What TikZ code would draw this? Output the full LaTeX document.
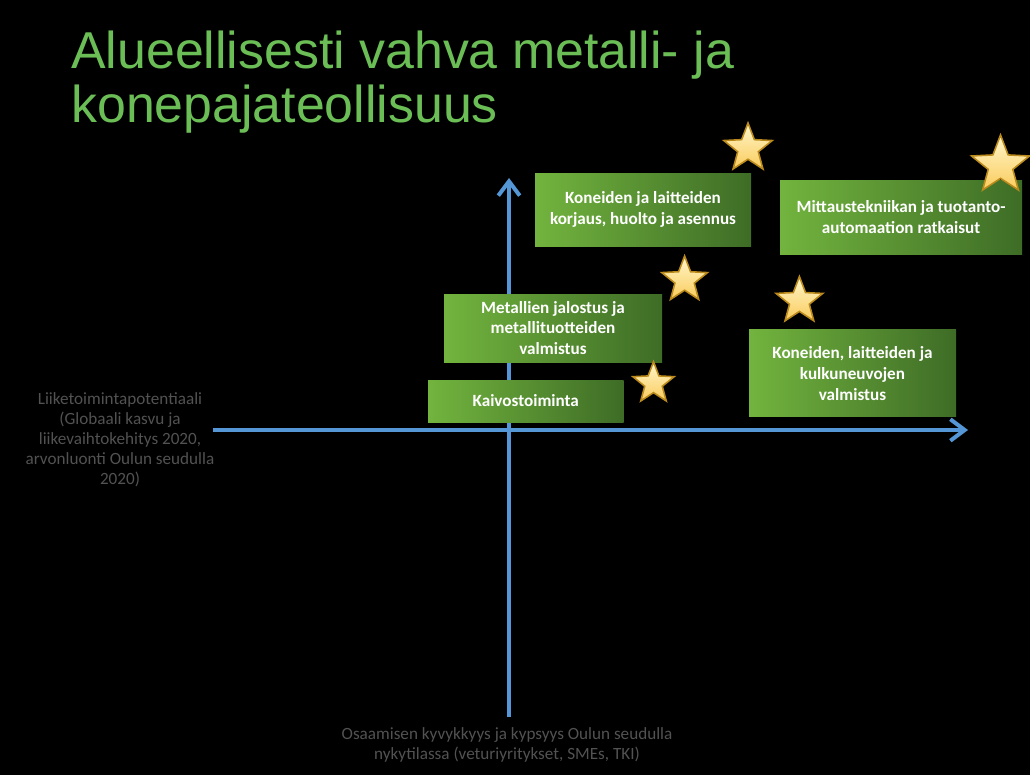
\documentclass[tikz,border=0pt]{standalone}
\usepackage{fontspec}
\setmainfont{Carlito}
\newfontfamily\titlefont{Liberation Sans}
\usetikzlibrary{shapes.geometric,arrows.meta}
\definecolor{titlegreen}{RGB}{107,190,86}
\definecolor{boxlight}{RGB}{114,180,62}
\definecolor{boxdark}{RGB}{62,108,38}
\definecolor{axisblue}{RGB}{84,150,214}
\definecolor{labelgray}{RGB}{82,82,82}
\definecolor{starlight}{RGB}{255,246,204}
\definecolor{stargold}{RGB}{250,204,92}
\definecolor{staredge}{RGB}{186,138,28}
\tikzset{
  greenbox/.style={left color=boxlight,right color=boxdark,draw=none,text=white,
    font=\bfseries\fontsize{12}{14.5}\selectfont,align=center,inner sep=0pt},
  goldstar/.style={star,star points=5,star point ratio=2.35,inner sep=0pt,outer sep=0pt,
    minimum size=#1,top color=starlight,bottom color=stargold,draw=staredge,line width=1.1pt},
  axisline/.style={draw=axisblue,line width=2.8pt,-{Straight Barb[length=10pt,width=15pt]}},
  axislabel/.style={text=labelgray,font=\fontsize{12}{14}\selectfont,align=center}
}

\begin{document}
\begin{tikzpicture}[x=0.7pt,y=-0.7pt]
\fill[black] (0,0) rectangle (1030,775);
\useasboundingbox (0,0) rectangle (1030,775);
% title
\node[anchor=base west,inner sep=0pt,text=titlegreen,font=\titlefont\fontsize{36.3}{37}\selectfont] (title1) at (71,68) {Alueellisesti vahva metalli- ja};
\node[anchor=base west,inner sep=0pt,text=titlegreen,font=\titlefont\fontsize{36.3}{37}\selectfont] (title2) at (71,122) {konepajateollisuus};
% axes
\coordinate (xfrom) at (213,430);
\coordinate (xto) at (968,430);
\coordinate (yfrom) at (509,717);
\coordinate (yto) at (509,178);
\draw[axisline] (xfrom) -- (xto);
\draw[axisline] (yfrom) -- (yto);
% boxes
\node[greenbox,minimum width=151.2pt,minimum height=51.45pt] (repair) at (643,209.75) {Koneiden ja laitteiden\\korjaus, huolto ja asennus};
\node[greenbox,minimum width=169.4pt,minimum height=51.8pt] (automation) at (901,217) {Mittaustekniikan ja tuotanto-\\automaation ratkaisut};
\node[greenbox,minimum width=152.6pt,minimum height=47.6pt] (metals) at (553,328) {Metallien jalostus ja\\metallituotteiden\\valmistus};
\node[greenbox,minimum width=136.85pt,minimum height=29.4pt] (mining) at (525.75,401) {Kaivostoiminta};
\node[greenbox,minimum width=144.9pt,minimum height=60.7pt] (vehicles) at (852.5,373.35) {Koneiden, laitteiden ja\\kulkuneuvojen\\valmistus};
% stars
\node[goldstar=35.6pt] (starrepair) at (748,148.4) {};
\node[goldstar=42.6pt] (starautomation) at (1000.5,165.4) {};
\node[goldstar=33.6pt] (starmetals) at (684.6,280) {};
\node[goldstar=34.3pt] (starvehicles) at (799.4,301) {};
\node[goldstar=30.4pt] (starmining) at (653.5,383.4) {};
% axis labels
\node[axislabel] (xlabel) at (120,440) {Liiketoimintapotentiaali\\(Globaali kasvu ja\\liikevaihtokehitys 2020,\\arvonluonti Oulun seudulla\\2020)};
\node[axislabel] (ylabel) at (507,744.5) {Osaamisen kyvykkyys ja kypsyys Oulun seudulla\\nykytilassa (veturiyritykset, SMEs, TKI)};
\end{tikzpicture}
\end{document}
